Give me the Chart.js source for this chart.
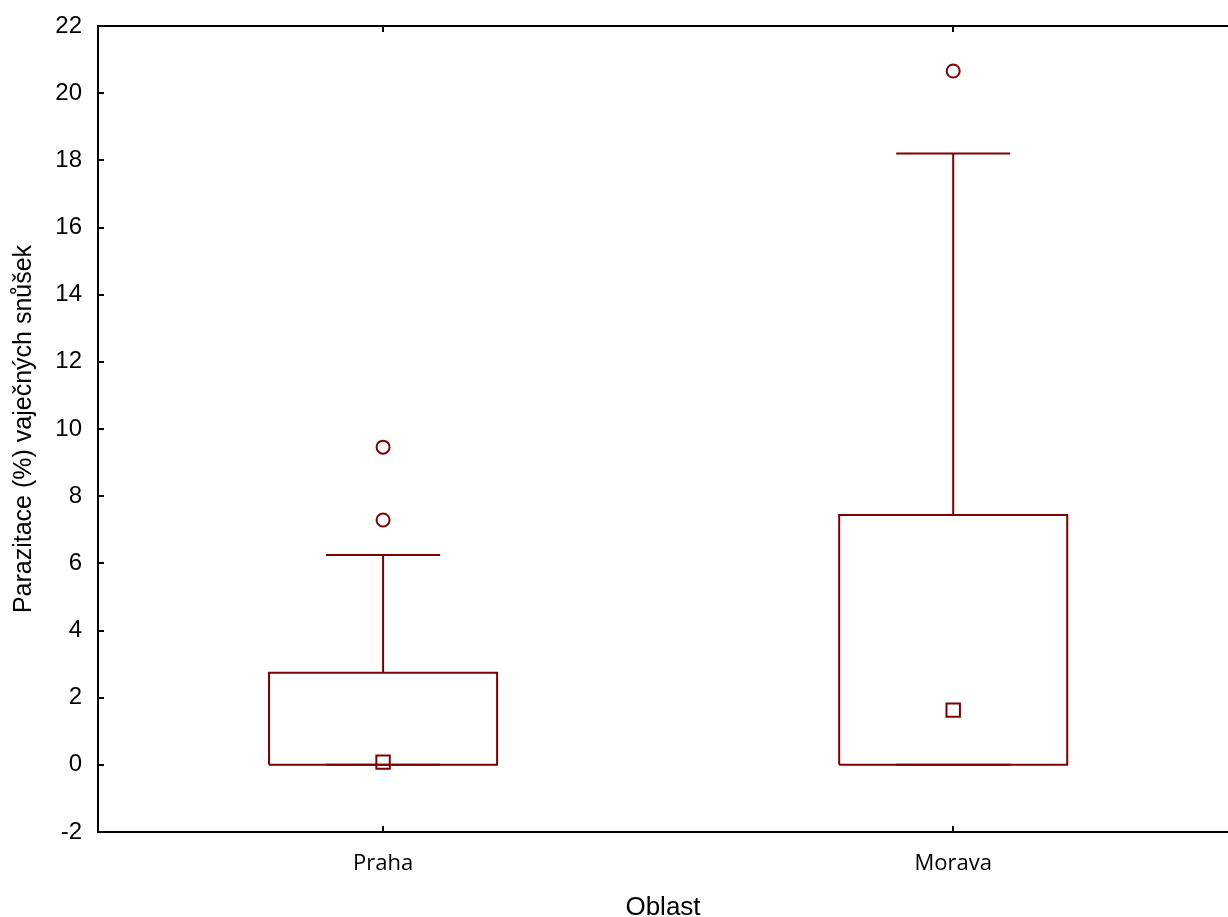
<!DOCTYPE html>
<html lang="cs">
  <head>
    <meta charset="UTF-8" />
    <title>Parazitace vaječných snůšek</title>
    <script src="https://cdn.jsdelivr.net/npm/chart.js@4.4.1/dist/chart.umd.min.js"></script>
    <style>
      html, body { margin: 0; background: #fff; overflow: hidden; }
      canvas { display: block; }
    </style>
  </head>
  <body>
    <canvas id="chart" width="1228" height="917"></canvas>
    <script>
      // hodnoty
      const groups = ['Praha', 'Morava']
      const whiskerLow = [0, 0]
      const boxLow = [0, 0]
      const medians = [0.08, 1.63]
      const boxHigh = [2.74, 7.44]
      const whiskerHigh = [6.25, 18.2]
      const outliers = [[7.29, 9.46], [20.66]]

      const red = '#800000'
      const boxHalf = 0.2
      const capHalf = 0.1
      const xMax = 1.982 // original plot runs a bit past the right edge
      const pos = (i) => i + 0.5

      const boxPts = []
      const whiskerPts = []
      groups.forEach((g, i) => {
        const x = pos(i)
        boxPts.push(
          { x: x - boxHalf, y: boxLow[i] },
          { x: x - boxHalf, y: boxHigh[i] },
          { x: x + boxHalf, y: boxHigh[i] },
          { x: x + boxHalf, y: boxLow[i] },
          { x: x - boxHalf, y: boxLow[i] },
          { x: x, y: null }
        )
        whiskerPts.push(
          { x: x, y: boxHigh[i] },
          { x: x, y: whiskerHigh[i] },
          { x: x, y: null },
          { x: x - capHalf, y: whiskerHigh[i] },
          { x: x + capHalf, y: whiskerHigh[i] },
          { x: x, y: null },
          { x: x - capHalf, y: whiskerLow[i] },
          { x: x + capHalf, y: whiskerLow[i] },
          { x: x, y: null }
        )
      })
      const medianPts = groups.map((g, i) => ({ x: pos(i), y: medians[i] }))
      const outlierPts = []
      outliers.forEach((list, i) => list.forEach((v) => outlierPts.push({ x: pos(i), y: v })))

      const catTicks = (scale) => {
        scale.ticks = groups.map((g, i) => ({ value: pos(i) }))
      }
      const noPad = (s) => {
        s.paddingLeft = 0
        s.paddingRight = 0
        s.paddingTop = 0
        s.paddingBottom = 0
      }

      // inward tick marks like the original
      const innerTicks = {
        id: 'innerTicks',
        afterDraw(chart) {
          const { ctx, chartArea, scales } = chart
          ctx.save()
          ctx.strokeStyle = '#000'
          ctx.lineWidth = 2
          ctx.beginPath()
          scales.y.ticks.forEach((t) => {
            const y = Math.round(scales.y.getPixelForValue(t.value))
            ctx.moveTo(chartArea.left, y)
            ctx.lineTo(chartArea.left + 6, y)
          })
          scales.x.ticks.forEach((t) => {
            const x = Math.round(scales.x.getPixelForValue(t.value))
            ctx.moveTo(x, chartArea.bottom)
            ctx.lineTo(x, chartArea.bottom - 6)
            ctx.moveTo(x, chartArea.top)
            ctx.lineTo(x, chartArea.top + 6)
          })
          ctx.stroke()
          ctx.restore()
        },
      }

      const arial = '"Liberation Sans", Arial, sans-serif'

      const config = {
        type: 'scatter',
        data: {
          datasets: [
            {
              data: boxPts,
              showLine: true,
              spanGaps: false,
              borderColor: red,
              borderWidth: 2,
              pointRadius: 0,
            },
            {
              data: whiskerPts,
              showLine: true,
              spanGaps: false,
              borderColor: red,
              borderWidth: 2,
              pointRadius: 0,
            },
            {
              data: medianPts,
              pointStyle: 'rect',
              pointRadius: 9.5,
              borderWidth: 2,
              borderColor: red,
              backgroundColor: '#fff',
            },
            {
              data: outlierPts,
              pointStyle: 'circle',
              pointRadius: 6.5,
              borderWidth: 2,
              borderColor: red,
              backgroundColor: '#fff',
            },
          ],
        },
        options: {
          responsive: false,
          animation: false,
          layout: { padding: 0, autoPadding: false },
          plugins: {
            legend: { display: false },
            tooltip: { enabled: false },
          },
          scales: {
            x: {
              type: 'linear',
              position: 'bottom',
              min: 0,
              max: xMax,
              afterBuildTicks: catTicks,
              afterFit: (s) => { s.height = 85; noPad(s) },
              grid: { display: false, drawTicks: false },
              border: { display: true, color: '#000', width: 2 },
              ticks: {
                padding: 19,
                color: '#000',
                font: { family: '"Open Sans", "Noto Sans", sans-serif', size: 22 },
                callback: (v) => groups[Math.round(v - 0.5)],
              },
              title: {
                display: true,
                text: 'Oblast',
                color: '#000',
                font: { family: arial, size: 26, lineHeight: 1 },
                padding: { top: 0, bottom: -4 },
              },
            },
            x2: {
              type: 'linear',
              position: 'top',
              min: 0,
              max: xMax,
              afterBuildTicks: catTicks,
              afterFit: (s) => { s.height = 26; noPad(s) },
              grid: { display: false, drawTicks: false },
              border: { display: true, color: '#000', width: 2 },
              ticks: { display: false },
            },
            y: {
              min: -2,
              max: 22,
              afterFit: (s) => { s.width = 98; noPad(s) },
              grid: { display: false, drawTicks: false },
              border: { display: true, color: '#000', width: 2 },
              ticks: {
                stepSize: 2,
                padding: 16,
                color: '#000',
                font: { family: arial, size: 24 },
              },
              title: {
                display: true,
                text: 'Parazitace (%) vaječných snůšek',
                color: '#000',
                font: { family: arial, size: 25, lineHeight: 1 },
                padding: { top: 12, bottom: 0 },
              },
            },
          },
        },
        plugins: [innerTicks],
      }

      new Chart(document.getElementById('chart'), config)
    </script>
  </body>
</html>
